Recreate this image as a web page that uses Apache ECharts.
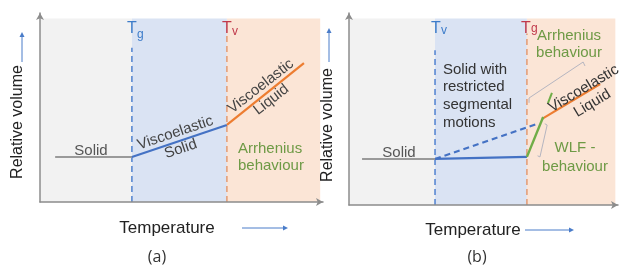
<!DOCTYPE html>
<html>
<head>
<meta charset="UTF-8">
<title>Relative volume vs temperature</title>
<script src="https://cdn.jsdelivr.net/npm/echarts@6/dist/echarts.min.js"></script>
<style>
  html, body { margin: 0; padding: 0; background: #fff; }
  #main { width: 619px; height: 269px; }
</style>
</head>
<body>
<div id="main"></div>
<script>
// panel (a): region borders on the temperature axis (grey | blue | peach)
var aBounds = [0, 32.8, 66.7, 100];
var aGuideTop = [84, 92];          // where the dashed Tg / Tv lines stop
var aSolidX = [5.4, 32.8],        aSolidY = [24.5, 24.5];
var aViscoSolidX = [32.8, 66.7],  aViscoSolidY = [24.5, 42];
var aViscoLiqX = [66.7, 94.2],    aViscoLiqY = [42, 75.7];

// panel (b)
var bBounds = [0, 32.3, 66.8, 100];
var bGuideTop = [83, 92];
var bSolidX = [4.9, 32.3],        bSolidY = [24.7, 24.7];
var bRestrX = [32.3, 66.8],       bRestrY = [24.7, 25.8];
var bExtrapX = [32.3, 70.6],      bExtrapY = [24.7, 43.5];
var bWlfX = [66.8, 72.9],         bWlfY = [25.8, 47.2];
var bLiqX = [72.5, 94.3],         bLiqY = [46.2, 64.9];
var bTickX = [74.7, 76.2],        bTickY = [54.7, 60.1];
var bUpBraceX = [67.6, 67.6, 87.9, 88.6], bUpBraceY = [54.8, 57.4, 76.7, 74.6];
var bLoBraceX = [73.5, 74.4, 71.7, 70.8], bLoBraceY = [43.6, 42.9, 25.8, 26.4];

function pts(xs, ys) {
  var out = [];
  for (var i = 0; i < xs.length; i++) out.push([xs[i], ys[i]]);
  return out;
}

var FONT = '"Liberation Sans", Arial, sans-serif';
var GREY_LINE = '#9a9a9a';
var BLUE = '#4472c4';
var ORANGE = '#ed7d31';
var GREEN = '#70ad47';

function line(idx, data, color, width, dashed) {
  return {
    type: 'line', xAxisIndex: idx, yAxisIndex: idx,
    data: data, showSymbol: false, silent: true, z: 4,
    lineStyle: { color: color, width: width, type: dashed ? [6, 4] : 'solid' }
  };
}

function bg(idx, b) {
  return {
    type: 'line', xAxisIndex: idx, yAxisIndex: idx, data: [], silent: true,
    markArea: {
      silent: true,
      data: [
        [{ coord: [b[0], 0], itemStyle: { color: '#f2f2f2' } }, { coord: [b[1], 100] }],
        [{ coord: [b[1], 0], itemStyle: { color: '#dae3f3' } }, { coord: [b[2], 100] }],
        [{ coord: [b[2], 0], itemStyle: { color: '#fbe5d6' } }, { coord: [b[3], 100] }]
      ]
    }
  };
}

function axisX(idx) {
  return {
    type: 'value', gridIndex: idx, min: 0, max: 101, z: 6,
    axisLine: { show: true, symbol: ['none', 'arrow'], symbolSize: [6, 7],
      lineStyle: { color: '#8c8c8c', width: 1.5 } },
    axisTick: { show: false }, axisLabel: { show: false }, splitLine: { show: false }
  };
}
function axisY(idx) {
  return {
    type: 'value', gridIndex: idx, min: 0, max: 103, z: 6,
    axisLine: { show: true, symbol: ['none', 'arrow'], symbolSize: [6, 7],
      lineStyle: { color: '#8c8c8c', width: 1.5 } },
    axisTick: { show: false }, axisLabel: { show: false }, splitLine: { show: false }
  };
}

function txt(x, y, s, opt) {
  opt = opt || {};
  return {
    type: 'text', x: x, y: y, rotation: opt.rot || 0, z: 10,
    style: {
      text: s, fill: opt.color || '#444', font: (opt.size || 15) + 'px ' + (opt.family || FONT),
      align: opt.align || 'center', verticalAlign: opt.va || 'middle', lineHeight: opt.lh || 17
    }
  };
}
function arrowUp(x, y1, y2) {
  return [
    { type: 'line', z: 10, shape: { x1: x, y1: y1, x2: x, y2: y2 + 4 }, style: { stroke: '#4a7cc9', lineWidth: 1 } },
    { type: 'polygon', z: 10, shape: { points: [[x - 2.5, y2 + 5], [x + 2.5, y2 + 5], [x, y2]] }, style: { fill: '#4a7cc9' } }
  ];
}
function arrowRight(x1, x2, y) {
  return [
    { type: 'line', z: 10, shape: { x1: x1, y1: y, x2: x2 - 4, y2: y }, style: { stroke: '#4a7cc9', lineWidth: 1 } },
    { type: 'polygon', z: 10, shape: { points: [[x2 - 5, y - 2.5], [x2 - 5, y + 2.5], [x2, y]] }, style: { fill: '#4a7cc9' } }
  ];
}

var TBLUE = '#3d7cc9', TRED = '#c0394b';
var graphics = [
  // panel (a)
  txt(18, 122, 'Relative volume', { rot: Math.PI / 2, size: 16, color: '#222' }),
  txt(167, 228, 'Temperature', { size: 17, color: '#222' }),
  txt(157, 257, '(a)', { size: 16, color: '#333', family: '"Open Sans", sans-serif' }),
  txt(127, 29, 'T', { size: 16, color: TBLUE, align: 'left' }),
  txt(137, 35, 'g', { size: 12, color: TBLUE, align: 'left' }),
  txt(222, 29, 'T', { size: 16, color: TRED, align: 'left' }),
  txt(232, 32, 'v', { size: 12, color: TRED, align: 'left' }),
  txt(91, 151, 'Solid', { size: 15, color: '#555' }),
  txt(178, 141, 'Viscoelastic\nSolid', { size: 15, rot: 0.325, color: '#444' }),
  txt(266, 93, 'Viscoelastic\nLiquid', { size: 15, rot: 0.66, color: '#444' }),
  txt(238, 157, 'Arrhenius\nbehaviour', { size: 15, color: '#6e9a45', align: 'left' }),
  // panel (b)
  txt(328, 125, 'Relative volume', { rot: Math.PI / 2, size: 16, color: '#222' }),
  txt(473, 230, 'Temperature', { size: 17, color: '#222' }),
  txt(477, 257, '(b)', { size: 16, color: '#333', family: '"Open Sans", sans-serif' }),
  txt(431, 29, 'T', { size: 16, color: TBLUE, align: 'left' }),
  txt(441, 31, 'v', { size: 12, color: TBLUE, align: 'left' }),
  txt(521, 29, 'T', { size: 16, color: TRED, align: 'left' }),
  txt(531, 29, 'g', { size: 12, color: TRED, align: 'left' }),
  txt(399, 153, 'Solid', { size: 15, color: '#555' }),
  txt(443, 96, 'Solid with\nrestricted\nsegmental\nmotions', { size: 15, color: '#333', align: 'left', lh: 17.7 }),
  txt(569, 44, 'Arrhenius\nbehaviour', { size: 15, color: '#6e9a45' }),
  txt(588, 96, 'Viscoelastic\nLiquid', { size: 15, rot: 0.54, color: '#333' }),
  txt(575, 157, 'WLF -\nbehaviour', { size: 15, color: '#6e9a45', lh: 19 })
].concat(arrowUp(22, 62, 32), arrowRight(242, 288, 228), arrowUp(329, 62, 28), arrowRight(525, 574, 230));

var chart = echarts.init(document.getElementById('main'), null, { renderer: 'canvas' });
chart.setOption({
  animation: false,
  backgroundColor: '#ffffff',
  grid: [
    { left: 40, top: 13, width: 283, height: 189 },
    { left: 349, top: 13, width: 269, height: 192 }
  ],
  xAxis: [axisX(0), axisX(1)],
  yAxis: [axisY(0), axisY(1)],
  series: [
    bg(0, aBounds),
    bg(1, bBounds),
    line(0, [[aBounds[1], 0], [aBounds[1], aGuideTop[0]]], '#4f81cf', 1.5, true),
    line(0, [[aBounds[2], 0], [aBounds[2], aGuideTop[1]]], '#e39a72', 1.5, true),
    line(0, pts(aSolidX, aSolidY), GREY_LINE, 2),
    line(0, pts(aViscoSolidX, aViscoSolidY), BLUE, 2.2),
    line(0, pts(aViscoLiqX, aViscoLiqY), ORANGE, 2.2),
    line(1, [[bBounds[1], 0], [bBounds[1], bGuideTop[0]]], '#4f81cf', 1.5, true),
    line(1, [[bBounds[2], 0], [bBounds[2], bGuideTop[1]]], '#e39a72', 1.5, true),
    line(1, pts(bSolidX, bSolidY), GREY_LINE, 2),
    line(1, pts(bRestrX, bRestrY), BLUE, 2.2),
    line(1, pts(bExtrapX, bExtrapY), BLUE, 2.2, true),
    line(1, pts(bLiqX, bLiqY), ORANGE, 2.2),
    line(1, pts(bWlfX, bWlfY), GREEN, 2.4),
    line(1, pts(bTickX, bTickY), GREEN, 2),
    line(1, pts(bUpBraceX, bUpBraceY), '#b5b5c0', 1),
    line(1, pts(bLoBraceX, bLoBraceY), '#b5b5c0', 1)
  ],
  graphic: graphics
});
</script>
</body>
</html>
